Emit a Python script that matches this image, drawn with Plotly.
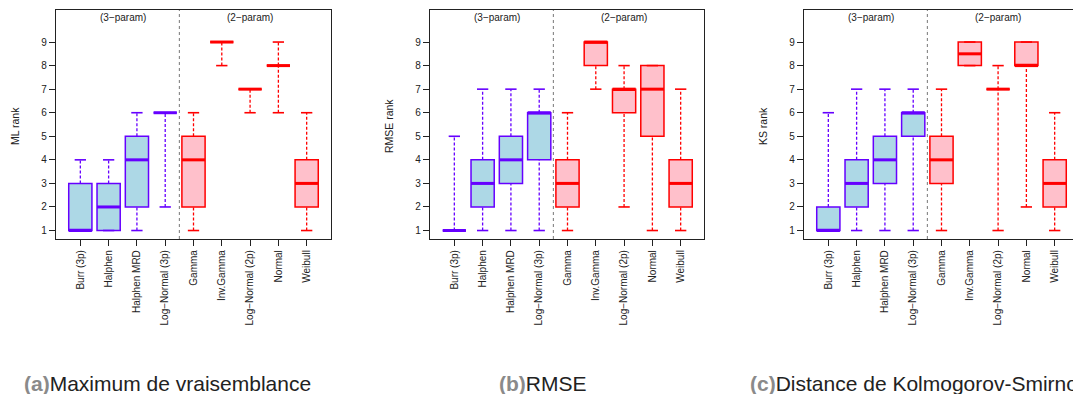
import plotly.graph_objects as go

categories = ["Burr (3p)", "Halphen", "Halphen MRD", "Log\u2212Normal (3p)",
              "Gamma", "Inv.Gamma", "Log\u2212Normal (2p)", "Normal", "Weibull"]
group3 = [True, True, True, True, False, False, False, False, False]
ytick_vals = [1, 2, 3, 4, 5, 6, 7, 8, 9]

# (a) ML rank: lower whisker, q1, median, q3, upper whisker
ml_lo  = [1, 1, 1, 2, 1, 8, 6, 6, 1]
ml_q1  = [1, 1, 2, 6, 2, 9, 7, 8, 2]
ml_med = [1, 2, 4, 6, 4, 9, 7, 8, 3]
ml_q3  = [3, 3, 5, 6, 5, 9, 7, 8, 4]
ml_hi  = [4, 4, 6, 6, 6, 9, 7, 9, 6]

# (b) RMSE rank
rm_lo  = [1, 1, 1, 1, 1, 7, 2, 1, 1]
rm_q1  = [1, 2, 3, 4, 2, 8, 6, 5, 2]
rm_med = [1, 3, 4, 6, 3, 9, 7, 7, 3]
rm_q3  = [1, 4, 5, 6, 4, 9, 7, 8, 4]
rm_hi  = [5, 7, 7, 7, 6, 9, 8, 8, 7]

# (c) KS rank
ks_lo  = [1, 1, 1, 1, 1, 8, 1, 2, 1]
ks_q1  = [1, 2, 3, 5, 3, 8, 7, 8, 2]
ks_med = [1, 3, 4, 6, 4, 8.5, 7, 8, 3]
ks_q3  = [2, 4, 5, 6, 5, 9, 7, 9, 4]
ks_hi  = [6, 7, 7, 7, 7, 9, 8, 9, 6]

panels = [
    ("ML rank", ml_lo, ml_q1, ml_med, ml_q3, ml_hi),
    ("RMSE rank", rm_lo, rm_q1, rm_med, rm_q3, rm_hi),
    ("KS rank", ks_lo, ks_q1, ks_med, ks_q3, ks_hi),
]
captions = ["Maximum de vraisemblance", "RMSE", "Distance de Kolmogorov-Smirnov"]
caption_letters = ["(a)", "(b)", "(c)"]

W, H = 1073, 394
frames_px = [(56, 331), (430, 704), (804, 1079)]
ytop_px, ybot_px = 10, 239
x_lo_range = 0.14
units_per_px = 9.72 / 275.0

BLUE_LINE, BLUE_FILL = "#6600FF", "#ADD8E6"
RED_LINE, RED_FILL = "#FF0000", "#FFC0CB"
FONT = "Liberation Sans, Arial, Helvetica, sans-serif"

fig = go.Figure()
positions = list(range(1, len(categories) + 1))
ydom = [(H - ybot_px) / H, (H - ytop_px) / H]

for p, (ylab, lo, q1, med, q3, hi) in enumerate(panels):
    xa = "x" if p == 0 else f"x{p+1}"
    ya = "y" if p == 0 else f"y{p+1}"
    for is3, line_c, fill_c in [(True, BLUE_LINE, BLUE_FILL), (False, RED_LINE, RED_FILL)]:
        idx = [i for i in range(len(categories)) if group3[i] == is3]
        # whiskers (dashed)
        wx, wy = [], []
        for i in idx:
            wx += [positions[i], positions[i], None, positions[i], positions[i], None]
            wy += [lo[i], q1[i], None, q3[i], hi[i], None]
        fig.add_trace(go.Scatter(x=wx, y=wy, mode="lines", xaxis=xa, yaxis=ya,
                                 line=dict(color=line_c, width=1.3, dash="3px,2px"),
                                 showlegend=False, hoverinfo="skip"))
        # caps
        cx, cy = [], []
        for i in idx:
            cx += [positions[i] - 0.2, positions[i] + 0.2, None, positions[i] - 0.2, positions[i] + 0.2, None]
            cy += [lo[i], lo[i], None, hi[i], hi[i], None]
        fig.add_trace(go.Scatter(x=cx, y=cy, mode="lines", xaxis=xa, yaxis=ya,
                                 line=dict(color=line_c, width=1.6),
                                 showlegend=False, hoverinfo="skip"))
        # box bodies
        for i in idx:
            fig.add_trace(go.Box(x=[positions[i]], q1=[q1[i]], median=[med[i]], q3=[q3[i]],
                                 lowerfence=[q1[i]], upperfence=[q3[i]],
                                 width=0.82, fillcolor=fill_c,
                                 line=dict(color=line_c, width=1.5),
                                 xaxis=xa, yaxis=ya, showlegend=False,
                                 boxpoints=False, hoverinfo="skip"))
        # medians (thick)
        mx, my = [], []
        for i in idx:
            mx += [positions[i] - 0.41, positions[i] + 0.41, None]
            my += [med[i], med[i], None]
        fig.add_trace(go.Scatter(x=mx, y=my, mode="lines", xaxis=xa, yaxis=ya,
                                 line=dict(color=line_c, width=3),
                                 showlegend=False, hoverinfo="skip"))

    left_px, right_px = frames_px[p]
    right_clip = min(right_px, W)
    x_hi_range = x_lo_range + (right_clip - left_px) * units_per_px
    xdom = [left_px / W, right_clip / W]
    axis_common = dict(showline=True, linecolor="#222", linewidth=1.3, showgrid=False,
                       zeroline=False, ticks="outside", ticklen=6, tickcolor="#222",
                       tickfont=dict(family=FONT, size=10, color="#222"), automargin=False)
    fig.update_layout(**{
        ("xaxis" if p == 0 else f"xaxis{p+1}"): dict(
            domain=xdom, range=[x_lo_range, x_hi_range], tickvals=positions,
            ticktext=categories, tickangle=-90, mirror=True, anchor=ya, **axis_common),
        ("yaxis" if p == 0 else f"yaxis{p+1}"): dict(
            domain=ydom, range=[0.64, 10.36], tickvals=ytick_vals,
            mirror=(right_px <= W), anchor=xa, **axis_common),
    })
    # separator between 3-param and 2-param families
    fig.add_shape(type="line", xref=xa, yref=f"{ya} domain", x0=4.5, x1=4.5, y0=0, y1=1,
                  line=dict(color="#777", width=1, dash="dot"))
    fig.add_annotation(x=2.5, y=10.06, xref=xa, yref=ya, text="(3\u2212param)", showarrow=False,
                       font=dict(family=FONT, size=10, color="#222"))
    fig.add_annotation(x=7, y=10.06, xref=xa, yref=ya, text="(2\u2212param)", showarrow=False,
                       font=dict(family=FONT, size=10, color="#222"))
    # y-axis title
    fig.add_annotation(x=(left_px - 41) / W, y=0.68, xref="paper", yref="paper", text=ylab,
                       textangle=-90, showarrow=False, xanchor="center", yanchor="middle",
                       font=dict(family=FONT, size=10.5, color="#222"))

caption_x_px = [22, 497, 748]
for k in range(3):
    fig.add_annotation(x=caption_x_px[k] / W, y=(H - 383) / H, xref="paper", yref="paper",
                       xanchor="left", yanchor="middle", showarrow=False,
                       text=f"<span style='color:#8a8a8a'><b>{caption_letters[k]}</b></span>{captions[k]}",
                       font=dict(family=FONT, size=21, color="#222"))

fig.update_layout(width=W, height=H, margin=dict(l=0, r=0, t=0, b=0),
                  template="none", boxmode="overlay",
                  paper_bgcolor="white", plot_bgcolor="white", showlegend=False)

fig.write_html("out.html", config={"displayModeBar": False},
               post_script="document.body.style.margin='0px';")
